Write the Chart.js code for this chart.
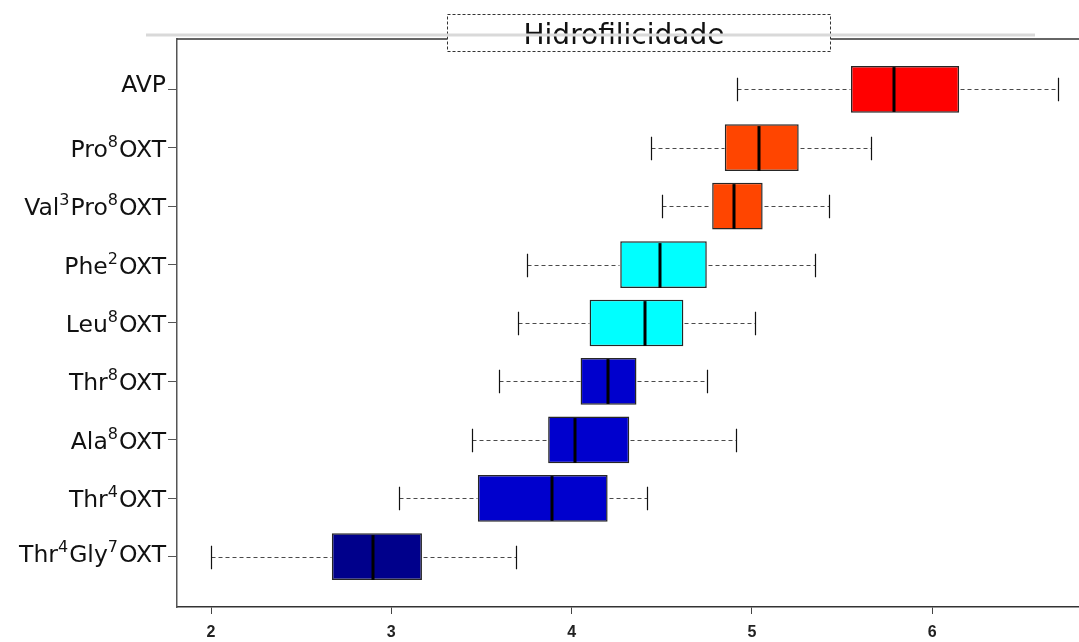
<!DOCTYPE html>
<html>
<head>
<meta charset="utf-8">
<script src="https://cdn.jsdelivr.net/npm/chart.js@4.4.1/dist/chart.umd.min.js"></script>
<style>
  html, body { margin: 0; padding: 0; background: #ffffff; }
  #wrap { width: 1079px; height: 642px; }
</style>
</head>
<body>
<div id="wrap"><canvas id="chart" width="1079" height="642"></canvas></div>
<script>
// Hydrophilicity of oxytocin analogues (box-and-whisker summary, top row first)
const chartTitle = 'Hidrofilicidade';
const categories = ['AVP', 'Pro⁸OXT', 'Val³Pro⁸OXT', 'Phe²OXT', 'Leu⁸OXT',
                    'Thr⁸OXT', 'Ala⁸OXT', 'Thr⁴OXT', 'Thr⁴Gly⁷OXT'];
const whiskerLow  = [4.92, 4.44, 4.50, 3.75, 3.70, 3.60, 3.45, 3.04, 2.00];
const quartile1   = [5.55, 4.85, 4.78, 4.27, 4.10, 4.05, 3.87, 3.48, 2.67];
const median      = [5.79, 5.04, 4.90, 4.49, 4.41, 4.20, 4.02, 3.89, 2.90];
const quartile3   = [6.15, 5.26, 5.06, 4.75, 4.62, 4.36, 4.32, 4.20, 3.17];
const whiskerHigh = [6.70, 5.66, 5.43, 5.35, 5.02, 4.75, 4.91, 4.42, 3.69];
const xTickValues = [2, 3, 4, 5, 6];

const boxColors = ['#FF0000', '#FF4500', '#FF4500', '#00FFFF', '#00FFFF',
                   '#0000CD', '#0000CD', '#0000CD', '#00008B'];

// rows sit at 1..n on a linear index axis, first category on top
const rowPositions = categories.map((_, i) => categories.length - i);

const boxData = categories.map((_, i) => ({ x: [quartile1[i], quartile3[i]], y: rowPositions[i] }));

const SUPERSCRIPTS = { '⁰': '0', '¹': '1', '²': '2', '³': '3', '⁴': '4',
                       '⁵': '5', '⁶': '6', '⁷': '7', '⁸': '8', '⁹': '9' };

function splitLabel(text) {
  const parts = [];
  for (const ch of text) {
    const sup = ch in SUPERSCRIPTS;
    const c = sup ? SUPERSCRIPTS[ch] : ch;
    const last = parts[parts.length - 1];
    if (last && last.sup === sup) last.text += c;
    else parts.push({ text: c, sup });
  }
  return parts;
}

// whiskers, staples and medians on top of the boxes
const whiskerPlugin = {
  id: 'whiskers',
  afterDatasetsDraw(chart) {
    const { ctx, scales: { x, y } } = chart;
    const meta = chart.getDatasetMeta(0);
    ctx.save();
    categories.forEach((_, i) => {
      const h = meta.data[i].getProps(['height'], true).height;
      const cy = Math.round(y.getPixelForValue(rowPositions[i])) + 0.5;
      const px = v => Math.round(x.getPixelForValue(v)) + 0.5;
      const lo = px(whiskerLow[i]), hi = px(whiskerHigh[i]);
      const b1 = px(quartile1[i]), b3 = px(quartile3[i]);

      ctx.setLineDash([4, 3]);
      ctx.strokeStyle = '#4a4a4a';
      ctx.lineWidth = 1;
      ctx.beginPath();
      ctx.moveTo(lo, cy); ctx.lineTo(b1 - 1, cy);
      ctx.moveTo(b3 + 1, cy); ctx.lineTo(hi, cy);
      ctx.stroke();

      ctx.setLineDash([]);
      ctx.strokeStyle = '#111111';
      ctx.lineWidth = 1.2;
      ctx.beginPath();
      ctx.moveTo(lo, cy - h / 4); ctx.lineTo(lo, cy + h / 4);
      ctx.moveTo(hi, cy - h / 4); ctx.lineTo(hi, cy + h / 4);
      ctx.stroke();

      const m = Math.round(x.getPixelForValue(median[i]));
      ctx.strokeStyle = '#000000';
      ctx.lineWidth = 3;
      ctx.beginPath();
      ctx.moveTo(m, cy - h / 2 + 1); ctx.lineTo(m, cy + h / 2 - 1);
      ctx.stroke();
    });
    ctx.restore();
  }
};

// category names with raised residue numbers
const rowLabelPlugin = {
  id: 'rowLabels',
  afterDraw(chart) {
    const { ctx, scales: { y } } = chart;
    const mainFont = '23.5px "DejaVu Sans"';
    const supFont = '16px "DejaVu Sans"';
    const right = 166;
    ctx.save();
    ctx.fillStyle = '#111111';
    ctx.textBaseline = 'alphabetic';
    ctx.textAlign = 'left';
    categories.forEach((label, i) => {
      const parts = splitLabel(label);
      const hasSup = parts.some(p => p.sup);
      const hasDesc = /[gjpqy]/.test(label);
      const cy = y.getPixelForValue(rowPositions[i]);
      let base = hasSup ? cy + 9 : cy + 3;
      if (hasSup && hasDesc) base -= 4;
      let width = 0;
      parts.forEach(p => {
        ctx.font = p.sup ? supFont : mainFont;
        p.w = ctx.measureText(p.text).width + (p.sup ? 1 : 0);
        width += p.w;
      });
      let xPos = right - width;
      parts.forEach(p => {
        ctx.font = p.sup ? supFont : mainFont;
        ctx.fillText(p.text, xPos, p.sup ? base - 10 : base);
        xPos += p.w;
      });
    });
    ctx.restore();
  }
};

// frame top, boxed title and the light rule crossing it
const framePlugin = {
  id: 'frame',
  afterDraw(chart) {
    const { ctx, chartArea } = chart;
    ctx.save();
    ctx.strokeStyle = '#333333';
    ctx.lineWidth = 1.5;
    ctx.beginPath();
    ctx.moveTo(chartArea.left, chartArea.top);
    ctx.lineTo(chartArea.right, chartArea.top);
    ctx.stroke();

    ctx.fillStyle = '#ffffff';
    ctx.fillRect(447, 14, 384, 38);
    ctx.setLineDash([3, 2]);
    ctx.strokeStyle = '#333333';
    ctx.lineWidth = 1;
    ctx.strokeRect(447.5, 14.5, 383, 37);
    ctx.setLineDash([]);

    ctx.fillStyle = '#111111';
    ctx.font = '28px "DejaVu Sans"';
    ctx.textAlign = 'center';
    ctx.textBaseline = 'alphabetic';
    ctx.fillText(chartTitle, 624, 44);

    ctx.strokeStyle = '#d9d9d9';
    ctx.lineWidth = 3;
    ctx.beginPath();
    ctx.moveTo(146, 35);
    ctx.lineTo(1035, 35);
    ctx.stroke();
    ctx.restore();
  }
};

new Chart(document.getElementById('chart'), {
  type: 'bar',
  data: {
    datasets: [{
      data: boxData,
      backgroundColor: boxColors,
      borderColor: '#262626',
      borderWidth: 1.5,
      borderSkipped: false,
      barPercentage: 0.8,
      categoryPercentage: 1
    }]
  },
  options: {
    indexAxis: 'y',
    responsive: false,
    animation: false,
    devicePixelRatio: 1,
    layout: { padding: { top: 39, right: 0, bottom: 0, left: 0 } },
    plugins: { legend: { display: false }, tooltip: { enabled: false }, title: { display: false } },
    scales: {
      x: {
        type: 'linear',
        position: 'bottom',
        min: 1.811,
        max: 6.815,
        offset: false,
        afterBuildTicks: s => { s.ticks = xTickValues.map(v => ({ value: v })); },
        afterFit: s => { s.height = 35; },
        grid: { offset: false, drawOnChartArea: false, drawTicks: true, tickLength: 7, color: '#444444', lineWidth: 1 },
        border: { display: true, color: '#333333', width: 1.5 },
        ticks: {
          color: '#222222',
          padding: 9,
          font: { family: '"Liberation Sans", Arial, sans-serif', size: 16, weight: 'bold' }
        }
      },
      y: {
        type: 'linear',
        min: 0.14,
        max: 9.86,
        offset: false,
        afterBuildTicks: s => { s.ticks = rowPositions.map(v => ({ value: v })); },
        afterFit: s => { s.width = 177; },
        grid: { offset: false, drawOnChartArea: false, drawTicks: true, tickLength: 9, color: '#555555', lineWidth: 1 },
        border: { display: true, color: '#555555', width: 1.5 },
        ticks: { display: false }
      }
    }
  },
  plugins: [whiskerPlugin, rowLabelPlugin, framePlugin]
});
</script>
</body>
</html>
